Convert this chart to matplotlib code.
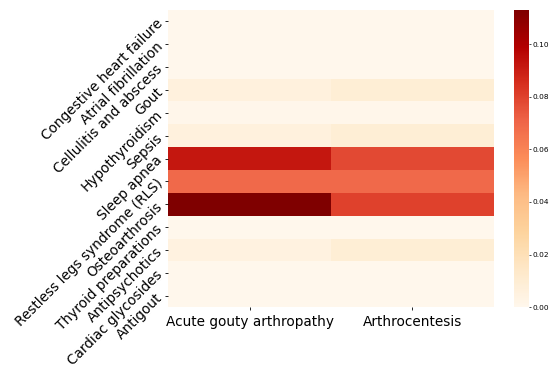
import numpy as np
import matplotlib
matplotlib.use("Agg")
import matplotlib.pyplot as plt
import seaborn as sns

conditions = [
    "Congestive heart failure", "Atrial fibrillation", "Cellulitis and abscess",
    "Gout", "Hypothyroidism", "Sepsis", "Sleep apnea",
    "Restless legs syndrome (RLS)", "Osteoarthrosis", "Thyroid preparations",
    "Antipsychotics", "Cardiac glycosides", "Antigout",
]
procedures = ["Acute gouty arthropathy", "Arthrocentesis"]

acute_gouty = [0.0, 0.0, 0.0, 0.006, 0.001, 0.006, 0.092, 0.069, 0.113, 0.0, 0.005, 0.0, 0.0]
arthrocentesis = [0.0, 0.0, 0.0, 0.009, 0.001, 0.009, 0.078, 0.069, 0.080, 0.0, 0.009, 0.0, 0.0]

data = np.column_stack([acute_gouty, arthrocentesis])

fig = plt.figure(figsize=(5.53, 3.67), dpi=100)
ax = fig.add_axes([0.304, 0.163, 0.589, 0.810])
cax = fig.add_axes([0.929, 0.163, 0.027, 0.810])

sns.heatmap(data, ax=ax, cbar_ax=cax, cmap="OrRd", vmin=0.0,
            xticklabels=procedures, yticklabels=conditions)

ax.set_yticklabels(conditions, rotation=45, ha="right", rotation_mode="anchor", fontsize=9.8)
ax.set_xticklabels(procedures, rotation=0, fontsize=9.8)
ax.tick_params(axis="both", length=2, width=0.6)
cax.tick_params(labelsize=5.3, length=1.5, width=0.5, pad=1.5)
cax.set_yticks([0.0, 0.02, 0.04, 0.06, 0.08, 0.10])

fig.savefig("out.png", dpi=100)
